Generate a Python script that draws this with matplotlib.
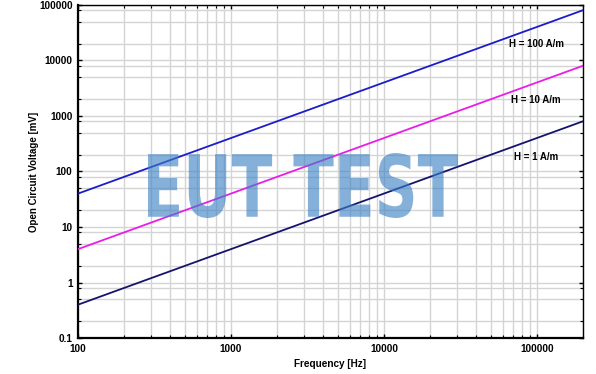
import matplotlib
matplotlib.use("Agg")
import matplotlib.pyplot as plt
from matplotlib.textpath import TextPath
from matplotlib.patches import PathPatch
from matplotlib.font_manager import FontProperties
from matplotlib.transforms import Affine2D, IdentityTransform
from matplotlib.ticker import LogLocator, FixedLocator, FixedFormatter, NullFormatter

plt.rcParams["font.family"] = ["Liberation Sans", "DejaVu Sans"]

# data
freq = [100, 1000, 10000, 100000, 200000]
v_h100 = [40, 400, 4000, 40000, 80000]
v_h10 = [4, 40, 400, 4000, 8000]
v_h1 = [0.4, 4, 40, 400, 800]

x_ticks = [100, 1000, 10000, 100000]
x_labels = ["100", "1000", "10000", "100000"]
y_ticks = [0.1, 1, 10, 100, 1000, 10000, 100000]
y_labels = ["0.1", "1", "10", "100", "1000", "10000", "100000"]

labels = ["H = 100 A/m", "H = 10 A/m", "H = 1 A/m"]
label_x = [66000, 68000, 71000]
label_y = [20000, 1950, 180]

fig = plt.figure(figsize=(5.96, 3.74), dpi=100)
ax = fig.add_axes([0.131, 0.096, 0.847, 0.891])

ax.plot(freq, v_h100, color="#1c1cc8", lw=1.3, zorder=3)
ax.plot(freq, v_h10, color="#e81ee8", lw=1.3, zorder=3)
ax.plot(freq, v_h1, color="#14146e", lw=1.3, zorder=3)

for txt, x, y in zip(labels, label_x, label_y):
    ax.text(x, y, txt, fontsize=7, fontweight="bold", va="center", ha="left", zorder=4)

ax.set_xscale("log")
ax.set_yscale("log")
ax.set_xlim(100, 200000)
ax.set_ylim(0.1, 100000)

ax.xaxis.set_major_locator(FixedLocator(x_ticks))
ax.xaxis.set_major_formatter(FixedFormatter(x_labels))
ax.yaxis.set_major_locator(FixedLocator(y_ticks))
ax.yaxis.set_major_formatter(FixedFormatter(y_labels))
ax.xaxis.set_minor_locator(LogLocator(base=10, subs=range(2, 10), numticks=20))
ax.yaxis.set_minor_locator(LogLocator(base=10, subs=[2, 5, 8], numticks=20))
ax.xaxis.set_minor_formatter(NullFormatter())
ax.yaxis.set_minor_formatter(NullFormatter())

ax.grid(True, which="both", color="#d4d4d4", lw=1.0, zorder=0)
ax.set_axisbelow(True)
ax.tick_params(which="both", direction="in", top=True, right=True, labelsize=7.2)
ax.tick_params(which="major", length=3, width=1, pad=4)
ax.tick_params(which="minor", length=2, width=0.8)
for lab in ax.get_xticklabels() + ax.get_yticklabels():
    lab.set_fontweight("bold")

for s in ["left", "bottom"]:
    ax.spines[s].set_linewidth(1.6)
for s in ["top", "right"]:
    ax.spines[s].set_linewidth(1.0)

ax.set_xlabel("Frequency [Hz]", fontsize=7.2, fontweight="bold", labelpad=4)
ax.set_ylabel("Open Circuit Voltage [mV]", fontsize=7, fontweight="bold", labelpad=0)

# watermark, squeezed to look condensed
tp = TextPath((0, 0), "EUT TEST", size=100,
              prop=FontProperties(family="DejaVu Sans", weight="bold"))
bb = tp.get_extents()
sx = (458 - 148) / bb.width
sy = (221 - 156) / bb.height
tr = Affine2D().translate(-bb.x0, -bb.y0).scale(sx, sy).translate(148, 156)
patch = PathPatch(tr.transform_path(tp), transform=IdentityTransform(),
                  facecolor="#3a80c4", edgecolor="none", alpha=0.62, zorder=5)
fig.patches.append(patch)

fig.savefig("out.png", dpi=100)
